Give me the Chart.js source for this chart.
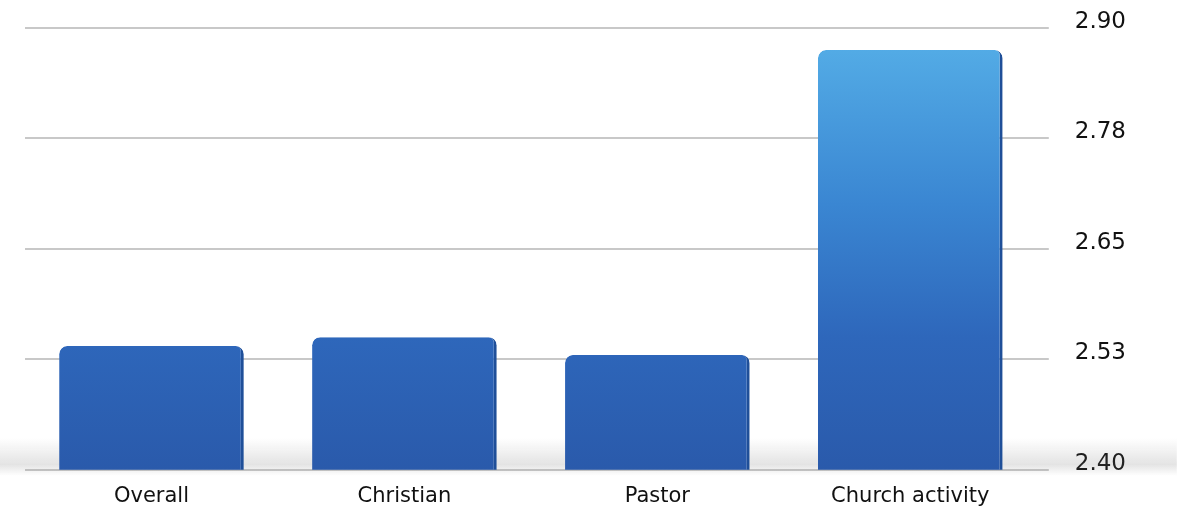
<!DOCTYPE html>
<html>
<head>
<meta charset="utf-8">
<script src="https://cdn.jsdelivr.net/npm/chart.js@4"></script>
<style>
  html, body { margin: 0; padding: 0; background: #fff; }
  #wrap { width: 1188px; height: 527px; position: relative; }
</style>
</head>
<body>
<div id="wrap"><canvas id="chart"></canvas></div>
<script>
const categories = ['Overall', 'Christian', 'Pastor', 'Church activity'];
const scores = [2.54, 2.55, 2.53, 2.875];
const tickLabels = ['2.40', '2.53', '2.65', '2.78', '2.90'];

// soft grey "floor" shadow under the bars
const floorShadow = {
  id: 'floorShadow',
  beforeDatasetsDraw(chart) {
    const { ctx, chartArea } = chart;
    const y0 = chartArea.bottom - 32;
    const y1 = chartArea.bottom + 6;
    const g = ctx.createLinearGradient(0, y0, 0, y1);
    g.addColorStop(0, 'rgba(120,120,120,0)');
    g.addColorStop(0.7, 'rgba(120,120,120,0.2)');
    g.addColorStop(1, 'rgba(120,120,120,0)');
    ctx.save();
    ctx.fillStyle = g;
    ctx.fillRect(0, y0, chartArea.right + 140, y1 - y0);
    ctx.restore();
  }
};

const barFill = (context) => {
  const chart = context.chart;
  const area = chart.chartArea;
  if (!area) return '#2d66b8';
  const g = chart.ctx.createLinearGradient(0, area.bottom, 0, area.top);
  g.addColorStop(0, '#2a5aab');
  g.addColorStop(0.3, '#2e67bb');
  g.addColorStop(0.6, '#3a86d2');
  g.addColorStop(1, '#56b0e8');
  return g;
};

new Chart(document.getElementById('chart'), {
  type: 'bar',
  data: {
    labels: categories,
    datasets: [{
      data: scores,
      backgroundColor: barFill,
      borderColor: '#1f4f99',
      borderWidth: { right: 3, left: 0, top: 0, bottom: 0 },
      borderRadius: 8,
      borderSkipped: false,
      barPercentage: 0.73,
      categoryPercentage: 1
    }]
  },
  options: {
    responsive: true,
    maintainAspectRatio: false,
    animation: false,
    layout: { padding: { top: 28, right: 36, left: 25, bottom: 12 } },
    plugins: {
      legend: { display: false },
      tooltip: { enabled: false }
    },
    scales: {
      x: {
        grid: { display: false },
        border: { display: false },
        ticks: {
          color: '#111',
          font: { family: 'DejaVu Sans', size: 21 },
          padding: 6
        }
      },
      y: {
        position: 'right',
        min: 2.40,
        max: 2.90,
        border: { display: false },
        grid: { color: '#c8c8c8', lineWidth: 2, tickLength: 12 },
        afterFit: (scale) => { scale.paddingTop = 0; },
        ticks: {
          stepSize: 0.125,
          color: '#111',
          padding: 26,
          labelOffset: -6,
          font: { family: 'DejaVu Sans', size: 23 },
          callback: (v, i) => tickLabels[i]
        }
      }
    }
  },
  plugins: [floorShadow]
});
</script>
</body>
</html>
